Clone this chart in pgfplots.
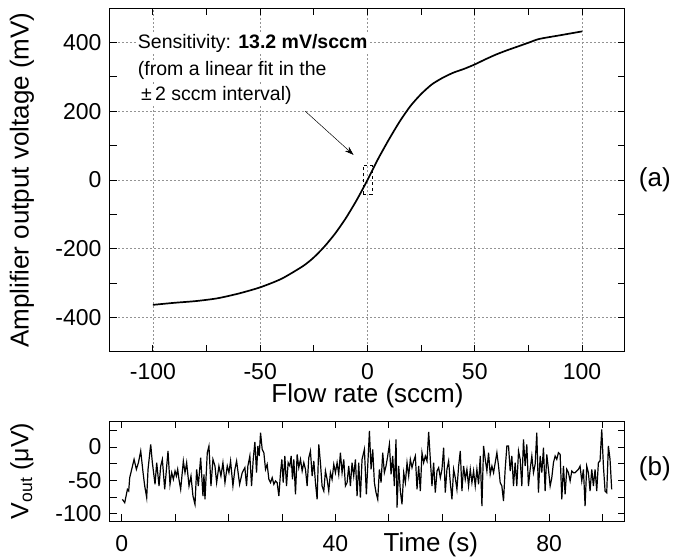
\documentclass[border=0pt]{standalone}
\usepackage{pgfplots}
\pgfplotsset{compat=1.18}
\usepackage{fontspec}
\setmainfont{Liberation Sans}
\usetikzlibrary{arrows.meta}

\pgfplotsset{
    common/.style={
        scale only axis,
        width=515pt,
        axis line style={line width=1pt},
        tick style={line width=0.9pt, black},
        major tick length=7pt,
        minor tick length=7pt,
        tick align=inside,
        ticklabel style={font=\fontsize{23}{27}\selectfont},
        yticklabel style={xshift=-5pt},
        label style={font=\fontsize{26}{30}\selectfont},
        /pgf/number format/assume math mode=true,
    },
}

\begin{document}
\begin{tikzpicture}
\useasboundingbox (-110pt,8pt) rectangle (563pt,-549pt);

% (a) transfer curve
\begin{axis}[
    common,
    at={(0pt,0pt)}, anchor=north west,
    height=344pt,
    xmin=-120, xmax=120,
    ymin=-500, ymax=500,
    xtick={-100,-50,0,50,100},
    minor xtick={-75,-25,25,75},
    ytick={-400,-200,0,200,400},
    minor ytick={-300,-100,100,300},
    xmajorgrids, ymajorgrids,
    grid style={gray!85, line width=0.8pt, dash pattern=on 2pt off 2pt},
    xticklabel style={yshift=-8pt},
    xlabel={Flow rate (sccm)},
    ylabel={Amplifier output voltage (mV)},
    xlabel style={at={(axis description cs:0.5,0)}, anchor=center, yshift=-44pt},
    ylabel style={at={(axis description cs:-0.171,0.5)}, anchor=center},
    clip=false,
]
\addplot[black, line width=1.7pt, smooth, tension=0.4] coordinates {
    (-100,-363) (-90,-357) (-80,-352) (-70,-344) (-60,-330) (-50,-312)
    (-40,-287) (-30,-250) (-25,-225) (-20,-193) (-15,-155) (-10,-110)
    (-5,-58) (0,0) (5,62) (10,118) (15,170) (20,215) (25,250) (30,278)
    (35,297) (40,312) (45,323) (50,336) (55,351) (60,365) (65,377)
    (70,388) (75,399) (80,410) (90,421) (100,432)
};
\node[fill=white, inner sep=2pt, anchor=west, font=\fontsize{19.5}{22}\selectfont]
    at (axis cs:-108,398) {Sensitivity: \textbf{13.2 mV/sccm}};
\node[fill=white, inner sep=2pt, anchor=west, font=\fontsize{19.5}{22}\selectfont]
    at (axis cs:-108,318) {(from a linear fit in the};
\node[fill=white, inner sep=2pt, anchor=west, font=\fontsize{19.5}{22}\selectfont]
    at (axis cs:-108,246) {\,±\,2 sccm interval)};
\draw[-{Stealth[length=9pt, width=6pt]}, line width=0.5pt] (axis cs:-29,200) -- (axis cs:-6.5,73);
\draw[dashed, line width=0.5pt] (axis cs:-2,-42) rectangle (axis cs:2,42);
\node[font=\fontsize{26}{30}\selectfont] at (axis description cs:1.058,0.5) {(a)};
\end{axis}

% (b) output noise
\begin{axis}[
    common,
    at={(0pt,-413pt)}, anchor=north west,
    height=100pt,
    xmin=-2.2, xmax=94.2,
    ymin=-111, ymax=39,
    xtick={0,40,80},
    minor xtick={10,20,30,50,60,70,90},
    ytick={-100,-50,0},
    minor ytick={-75,-25,25},
    xticklabel style={yshift=-11pt},
    xlabel={Time (s)},
    ylabel={V\textsubscript{out} (μV)},
    xlabel style={at={(axis description cs:0.623,0)}, anchor=center, yshift=-24pt},
    ylabel style={at={(axis description cs:-0.171,0.5)}, anchor=center, font=\fontsize{25}{30}\selectfont},
    clip=false,
]
\addplot[black, line width=1.2pt] coordinates {
(0.12,-78.5)(0.56,-83.5)(1.06,-63.5)(1.3,-66)(1.49,-46)(2.31,-18.5)(2.74,-33.5)(3.12,-23.5)(3.55,-6)(3.99,-38.5)(4.3,-58.5)(4.67,-76)(4.92,-33.5)(5.42,4)(5.73,-23.5)(6.23,-56)(6.54,-23.5)(6.98,-58.5)(7.29,-28.5)(7.6,-18.5)(8.04,-63.5)(8.66,-6)(9.03,-56)(9.35,-38.5)(9.66,-48.5)(9.97,-36)(10.22,-43.5)(10.47,-33.5)(10.71,-48.5)(11.03,-63.5)(11.53,-21)(11.84,-38.5)(12.15,-23.5)(12.59,-58.5)(12.96,-43.5)(13.33,-73.5)(13.71,-86)(14.02,-33.5)(14.33,-58.5)(14.77,-16)(15.2,-73.5)(15.39,-41)(15.58,-78.5)(16.01,-8.5)(16.32,1.5)(16.7,-58.5)(17.07,-18.5)(17.45,-28.5)(17.76,-53.5)(18.19,-28.5)(18.57,-43.5)(18.94,-23.5)(19.32,-53.5)(19.75,-28.5)(20.06,-38.5)(20.37,-21)(20.81,-58.5)(21.18,-33.5)(21.5,-21)(22.06,-56)(22.55,-38.5)(23.05,-31)
(23.36,-58.5)(23.61,-28.5)(23.98,-13.5)(24.3,-58.5)(24.61,-18.5)(24.92,7.5)(25.23,-38.5)(25.48,1.5)(25.73,-13.5)(25.98,21.5)(26.29,-3.5)(26.6,-8.5)(26.91,-33.5)(27.22,-26)(27.54,-48.5)(27.85,-53.5)(28.16,-46)(28.47,-56)(28.78,-51)(29.09,-53.5)(29.41,-73.5)(29.72,-38.5)(29.97,-18.5)(30.22,-53.5)(30.53,-13.5)(30.84,-58.5)(31.15,-23.5)(31.46,-28.5)(31.71,-13.5)(31.96,-48.5)(32.21,-18.5)(32.52,-71)(32.83,-11)(33.14,-31)(33.46,-18.5)(33.77,-36)(34.08,-23.5)(34.39,-33.5)(34.7,-58.5)(35.01,-16)(35.32,-6)(35.64,-43.5)(35.95,-21)(36.26,-53.5)(36.57,-78.5)(36.88,4)(37.19,-23.5)(37.5,-58.5)(37.82,-66)(38.13,-36)(38.44,-48.5)(38.75,-66)(39.06,-38.5)(39.37,-48.5)(39.69,-26)(40.0,-38.5)(40.31,-23.5)(40.62,-41)(40.93,-8.5)(41.24,-38.5)(41.56,-18.5)(41.87,-58.5)(42.18,-53.5)(42.49,-28.5)(42.8,-58.5)(43.11,-23.5)(43.42,-43.5)(43.74,-18.5)(44.05,-73.5)(44.36,-23.5)(44.67,-76)(44.98,-18.5)(45.42,-3.5)(45.79,-71)
(46.36,24)(46.67,-33.5)(46.98,-3.5)(47.29,-53.5)(47.6,-68.5)(47.92,-78.5)(48.23,-33.5)(48.54,-53.5)(48.85,-8.5)(49.16,-38.5)(49.47,-28.5)(49.78,-13.5)(50.1,4)(50.41,-41)(50.72,-13.5)(51.03,-58.5)(51.34,11.5)(51.53,-91)(51.84,-28.5)(52.15,-66)(52.46,-86)(52.78,-38.5)(53.09,-53.5)(53.4,-23.5)(53.71,-43.5)(54.02,-18.5)(54.33,-31)(54.64,-21)(54.96,-13.5)(55.27,-63.5)(55.58,-28.5)(55.89,-66)(56.2,-8.5)(56.51,-23.5)(56.83,-13.5)(57.14,-21)(57.45,22.5)(57.76,-18.5)(58.07,-58.5)(58.38,-23.5)(58.69,-68.5)(59.01,-36)(59.32,-31)(59.63,-46)(59.94,-33.5)(60.25,-1)(60.56,-68.5)(60.87,-33.5)(61.19,-21)(61.5,-53.5)(61.81,-78.5)(62.12,-33.5)(62.43,-46)(62.74,-63.5)(63.06,-28.5)(63.37,-6)(63.68,-66)(63.99,-28.5)(64.3,-48.5)(64.61,-33.5)(64.92,-58.5)(65.24,-33.5)(65.55,-53.5)(65.86,-36)(66.17,-58.5)(66.48,-33.5)(66.79,-56)(67.11,-13.5)(67.42,-88.5)(67.73,1.5)(68.04,-18.5)(68.35,-36)(68.66,-8.5)(68.97,-41)(69.29,-28.5)(69.6,-38.5)
(70.22,-8.5)(70.53,-28.5)(70.84,-53.5)(71.15,-58.5)(71.46,-81)(71.77,-33.5)(72.09,1.5)(72.4,1.5)(72.71,-36)(73.02,-13.5)(73.33,-58.5)(73.64,-23.5)(73.95,-58.5)(74.27,-6)(74.58,-18.5)(74.89,-58.5)(75.2,11.5)(75.51,-28.5)(75.82,4)(76.13,-58.5)(76.45,-33.5)(76.76,-13.5)(77.07,-38.5)(77.38,-26)(77.69,21.5)(78.0,-68.5)(78.32,-13.5)(78.63,-38.5)(78.94,-1)(79.25,-66)(79.56,-11)(79.87,-33.5)(80.19,-58.5)(80.5,-46)(80.81,-23.5)(81.12,-13.5)(81.43,-18.5)(81.74,-8.5)(82.06,-11)(82.37,-78.5)(82.68,-28.5)(82.99,-71)(83.3,-33.5)(83.61,-38.5)(83.93,-51)(84.24,-36)(84.55,-38.5)(84.86,-38.5)(85.17,-36)(85.48,-33.5)(85.79,-28.5)(86.11,-51)(86.42,-33.5)(86.73,-88.5)(87.04,-28.5)(87.35,-38.5)(87.66,-66)(87.98,-33.5)(88.29,-58.5)(88.6,-33.5)(88.91,-66)(89.22,-23.5)(89.53,-21)(89.85,26.5)(90.16,-28.5)(90.47,-66)(90.78,-68.5)(91.09,1.5)(91.4,-18.5)(91.71,-63.5)
};
\node[font=\fontsize{26}{30}\selectfont] at (axis description cs:1.058,0.52) {(b)};
\end{axis}
\end{tikzpicture}
\end{document}
